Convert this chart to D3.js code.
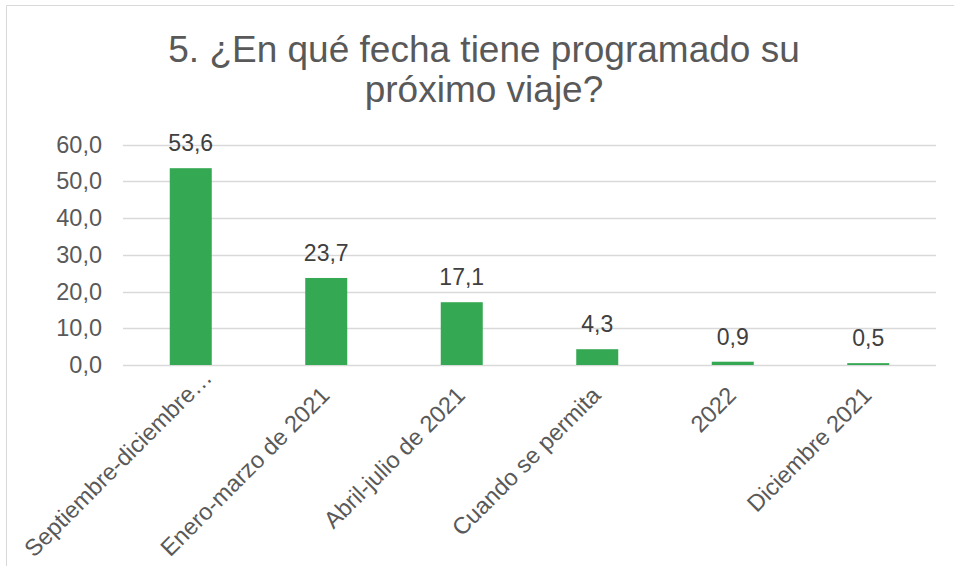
<!DOCTYPE html>
<html lang="es">
<head>
    <meta charset="UTF-8">
    <script src="https://d3js.org/d3.v7.min.js"></script>
    <title>Próximo viaje</title>
    <style>
        body {
            margin: 0;
            background-color: #ffffff;
            font-family: "Liberation Sans", Arial, sans-serif;
        }
        svg text {
            font-family: "Liberation Sans", Arial, sans-serif;
        }
    </style>
</head>
<body>
    <svg id="chart" width="954" height="577"></svg>

    <script>
        const width = 954;
        const height = 577;

        // data
        const categories = ["Septiembre-diciembre…", "Enero-marzo de 2021", "Abril-julio de 2021",
            "Cuando se permita", "2022", "Diciembre 2021"];
        const values = [53.6, 23.7, 17.1, 4.3, 0.9, 0.5];
        const yTicks = [0, 10, 20, 30, 40, 50, 60];
        const titleLines = ["5. ¿En qué fecha tiene programado su", "próximo viaje?"];

        const plot = { left: 123, right: 936, top: 144.7, bottom: 365 };
        const fmt = v => d3.format(".1f")(v).replace(".", ",");

        const svg = d3.select("#chart");

        // outer frame (cropped at right/bottom)
        svg.append("path")
            .attr("d", "M6.5,566 L6.5,5.5 L954,5.5")
            .attr("fill", "none")
            .attr("stroke", "#d9d9d9")
            .attr("stroke-width", 1);

        const x = d3.scaleBand()
            .domain(categories)
            .range([plot.left, plot.right])
            .paddingInner(0.69)
            .paddingOuter(0.345);

        const y = d3.scaleLinear()
            .domain([0, 60])
            .range([plot.bottom, plot.top]);

        // grid lines
        svg.append("g")
            .selectAll("line")
            .data(yTicks)
            .join("line")
            .attr("x1", plot.left)
            .attr("x2", plot.right)
            .attr("y1", d => Math.round(y(d)) + 0.5)
            .attr("y2", d => Math.round(y(d)) + 0.5)
            .attr("stroke", "#d9d9d9")
            .attr("stroke-width", 1.5);

        // y axis labels
        const yAxis = svg.append("g")
            .attr("transform", `translate(${plot.left - 21},0)`)
            .call(d3.axisLeft(y).tickValues(yTicks).tickFormat(fmt).tickSize(0).tickPadding(0));
        yAxis.select(".domain").remove();
        yAxis.selectAll("text")
            .attr("fill", "#595959")
            .style("font-size", "23.5px");

        // bars
        svg.append("g")
            .selectAll("rect")
            .data(values)
            .join("rect")
            .attr("x", (d, i) => x(categories[i]))
            .attr("width", x.bandwidth())
            .attr("y", d => y(d))
            .attr("height", d => y(0) - y(d))
            .attr("fill", "#34a853");

        // value labels
        svg.append("g")
            .selectAll("text")
            .data(values)
            .join("text")
            .attr("x", (d, i) => x(categories[i]) + x.bandwidth() / 2)
            .attr("y", d => y(d) - 17)
            .attr("text-anchor", "middle")
            .attr("fill", "#404040")
            .style("font-size", "23px")
            .text(fmt);

        // category labels (truncated label sits a bit further along, like excel does)
        svg.append("g")
            .selectAll("text")
            .data(categories)
            .join("text")
            .attr("transform", d => `translate(${x(d) + x.bandwidth() / 2 - 1},${plot.bottom + 26}) rotate(-45)`)
            .attr("text-anchor", "end")
            .attr("dx", d => d.endsWith("…") ? 25 : 0)
            .attr("dy", "0.35em")
            .attr("fill", "#595959")
            .style("font-size", "23.5px")
            .text(d => d);

        // title
        svg.append("text")
            .attr("x", 484)
            .attr("y", 62)
            .attr("text-anchor", "middle")
            .attr("fill", "#595959")
            .style("font-size", "37px")
            .selectAll("tspan")
            .data(titleLines)
            .join("tspan")
            .attr("x", 484)
            .attr("dy", (d, i) => i === 0 ? 0 : 40)
            .text(d => d);
    </script>
</body>
</html>
